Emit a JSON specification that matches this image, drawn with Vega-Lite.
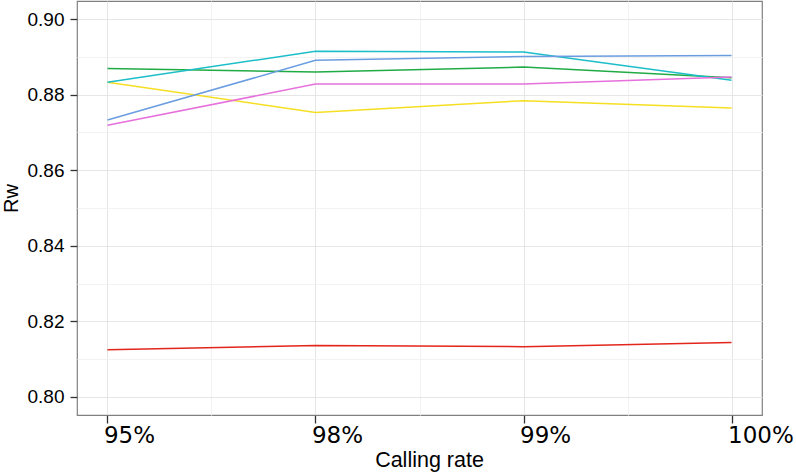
{
  "$schema": "https://vega.github.io/schema/vega-lite/v6.json",
  "width": 685,
  "height": 414,
  "autosize": {"type": "none"},
  "padding": {"left": 77, "top": 1, "right": 34, "bottom": 59},
  "background": "white",
  "config": {
    "view": {"stroke": "#808080", "strokeWidth": 1.2},
    "axis": {"domain": false}
  },
  "data": {
    "values": [
      {"rate": "95%", "series": "s1", "Rw": 0.8125},
      {"rate": "98%", "series": "s1", "Rw": 0.8136},
      {"rate": "99%", "series": "s1", "Rw": 0.8133},
      {"rate": "100%", "series": "s1", "Rw": 0.8144},
      {"rate": "95%", "series": "s2", "Rw": 0.8833},
      {"rate": "98%", "series": "s2", "Rw": 0.8753},
      {"rate": "99%", "series": "s2", "Rw": 0.8784},
      {"rate": "100%", "series": "s2", "Rw": 0.8765},
      {"rate": "95%", "series": "s3", "Rw": 0.8869},
      {"rate": "98%", "series": "s3", "Rw": 0.8860},
      {"rate": "99%", "series": "s3", "Rw": 0.8873},
      {"rate": "100%", "series": "s3", "Rw": 0.8845},
      {"rate": "95%", "series": "s4", "Rw": 0.8833},
      {"rate": "98%", "series": "s4", "Rw": 0.8915},
      {"rate": "99%", "series": "s4", "Rw": 0.8913},
      {"rate": "100%", "series": "s4", "Rw": 0.8838},
      {"rate": "95%", "series": "s5", "Rw": 0.8733},
      {"rate": "98%", "series": "s5", "Rw": 0.8891},
      {"rate": "99%", "series": "s5", "Rw": 0.8901},
      {"rate": "100%", "series": "s5", "Rw": 0.8904},
      {"rate": "95%", "series": "s6", "Rw": 0.8719},
      {"rate": "98%", "series": "s6", "Rw": 0.8828},
      {"rate": "99%", "series": "s6", "Rw": 0.8828},
      {"rate": "100%", "series": "s6", "Rw": 0.8847}
    ]
  },
  "resolve": {"axis": {"x": "independent", "y": "independent"}},
  "layer": [
    {
      "mark": {"type": "line", "strokeOpacity": 0},
      "encoding": {
        "x": {
          "field": "rate", "type": "ordinal",
          "scale": {"type": "point", "domain": ["95%", " a", "98%", " b", "99%", " c", "100%"], "padding": 0.293},
          "axis": {"orient": "bottom", "values": [" a", " b", " c"], "labels": false, "ticks": false, "domain": false, "grid": true, "gridColor": "#f2f2f2", "gridWidth": 1, "title": null}
        },
        "y": {
          "field": "Rw", "type": "quantitative",
          "scale": {"domain": [0.7952, 0.9048], "nice": false, "zero": false},
          "axis": {"orient": "left", "values": [0.81, 0.83, 0.85, 0.87, 0.89], "labels": false, "ticks": false, "domain": false, "grid": true, "gridColor": "#f2f2f2", "gridWidth": 1, "title": null}
        },
        "detail": {"field": "series"}
      }
    },
    {
      "mark": {"type": "line", "strokeWidth": 1.5},
      "encoding": {
        "x": {
          "field": "rate", "type": "ordinal",
          "axis": {
            "orient": "bottom",
            "values": ["95%", "98%", "99%", "100%"],
            "grid": true, "gridColor": "#e6e6e6", "gridWidth": 1,
            "ticks": true, "tickSize": 8, "tickColor": "#333333", "tickWidth": 1.3,
            "labelFont": "DejaVu Sans", "labelFontSize": 23, "labelColor": "#000000", "labelPadding": 1, "labelAngle": 0,
            "labelAlign": "left", "labelOffset": -4,
            "title": "Calling rate", "titleFont": "Liberation Sans", "titleFontSize": 21.5, "titleFontWeight": "normal", "titleColor": "#000000", "titlePadding": 2,
            "titleX": 352
          }
        },
        "y": {
          "field": "Rw", "type": "quantitative",
          "axis": {
            "orient": "left",
            "values": [0.80, 0.82, 0.84, 0.86, 0.88, 0.90],
            "format": ".2f",
            "grid": true, "gridColor": "#e6e6e6", "gridWidth": 1,
            "ticks": true, "tickSize": 7, "tickColor": "#333333", "tickWidth": 1.3,
            "labelFont": "Liberation Sans", "labelFontSize": 19, "labelColor": "#000000", "labelPadding": 6,
            "title": "Rw", "titleFont": "Liberation Sans", "titleFontSize": 20, "titleFontWeight": "normal", "titleColor": "#000000", "titlePadding": 6,
            "titleY": 197
          }
        },
        "color": {
          "field": "series", "type": "nominal",
          "scale": {"domain": ["s1", "s2", "s3", "s4", "s5", "s6"], "range": ["#e3261c", "#f5df22", "#21ab45", "#1cbec8", "#6a9de0", "#e670dc"]},
          "legend": null
        }
      }
    }
  ]
}
